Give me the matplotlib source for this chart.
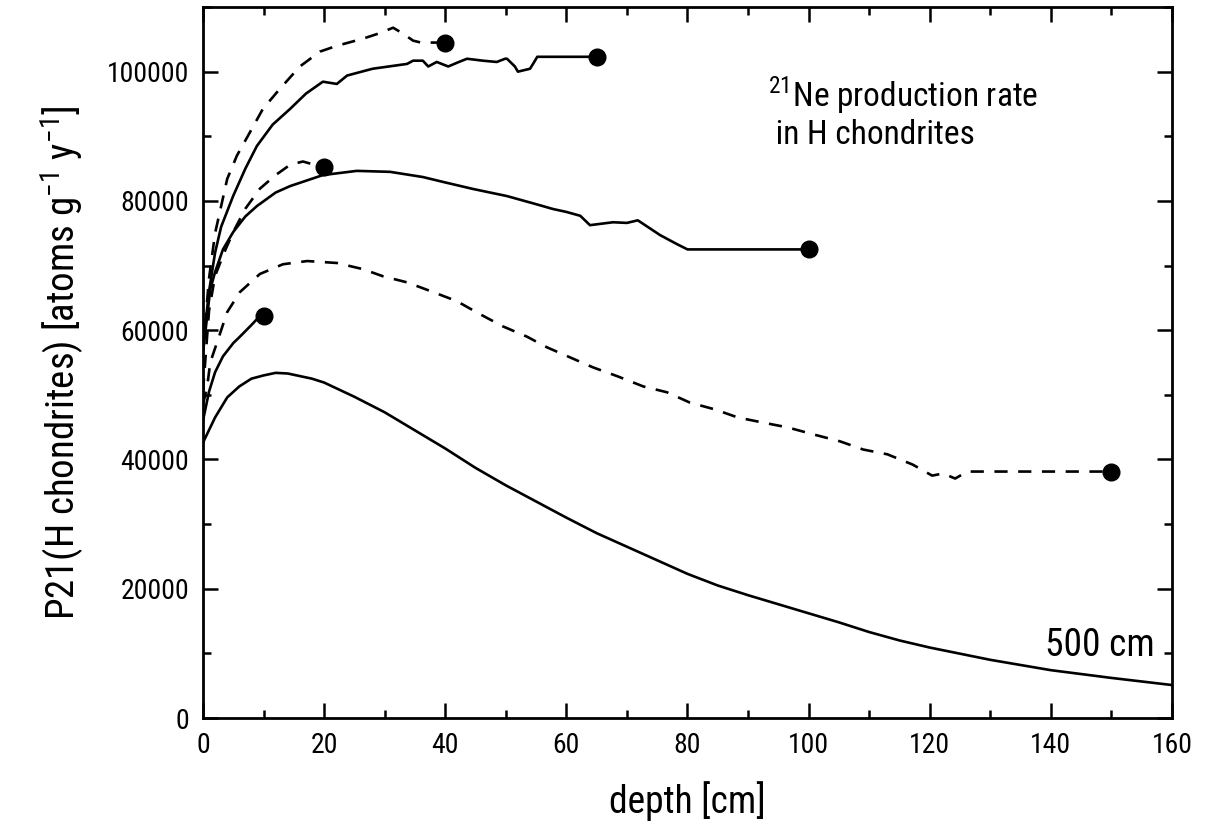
import numpy as np
import matplotlib.pyplot as plt
from matplotlib.ticker import MultipleLocator

plt.rcParams['font.family'] = ['Roboto Condensed', 'Archivo Narrow', 'Liberation Sans', 'DejaVu Sans']
plt.rcParams['mathtext.fontset'] = 'custom'
plt.rcParams['mathtext.rm'] = 'Roboto Condensed'

# depth [cm] and P21 [atoms/g/y] for each meteoroid radius
d_10 = [0, 1, 2, 3.3, 5, 6.1, 8, 8.9, 10]
p_10 = [46000, 50500, 53500, 55950, 58000, 59000, 60800, 61700, 62200]

d_20 = [0, 1, 2, 3.5, 5, 7, 9.4, 12, 14.4, 16.5, 18, 20]
p_20 = [50500, 63000, 68400, 72000, 75200, 78800, 81900, 84000, 85600, 86100, 85700, 85300]

d_40 = [0, 1, 2, 4, 5.6, 7.8, 9.9, 12.7, 16, 19.3, 22.1, 26.4, 29, 31.4, 33, 34.7, 36, 40]
p_40 = [57000, 68000, 75000, 83400, 87000, 90700, 94250, 97350, 100800, 103100, 104000,
        105100, 105900, 106800, 105900, 104800, 104500, 104500]

d_65 = [0, 1, 2, 3, 5, 7, 8.9, 11.5, 14.4, 17, 19.8, 22.1, 23.8, 28, 33.7, 34.7, 36.3,
        37.2, 38.6, 40.5, 42, 43.6, 46.2, 48.5, 49.9, 50.2, 51.5, 52, 54, 54.5, 55.2, 65]
p_65 = [57500, 66000, 72000, 76000, 80800, 85000, 88500, 91800, 94250, 96600, 98450,
        98100, 99400, 100450, 101200, 101700, 101700, 100800, 101500, 100800, 101400,
        102000, 101700, 101500, 102000, 102000, 100800, 100000, 100450, 101200, 102300, 102300]

d_100 = [0, 1.2, 2, 3.3, 5, 7, 8.9, 12, 14.4, 19.8, 25.4, 30.9, 36.3, 39.6, 44.6, 50.2,
         55, 57.8, 60, 62.3, 63.9, 67.7, 70, 71.8, 75.5, 78.3, 80, 100]
p_100 = [56500, 66300, 69000, 72500, 75200, 77600, 79200, 81300, 82300, 84000, 84650,
         84500, 83700, 82950, 81850, 80750, 79500, 78750, 78300, 77700, 76250, 76700,
         76600, 77000, 74700, 73300, 72500, 72500]

d_150 = [0, 0.7, 1.2, 2.5, 4, 6.1, 9.4, 13.2, 17.2, 22.1, 26.4, 29.7, 33.7, 38, 41.9,
         45.7, 49.5, 53.5, 56.8, 60.6, 64.4, 68.5, 72.7, 76.6, 80.4, 84.5, 88.3, 92.5,
         96.6, 100.7, 105.2, 109, 113, 117.2, 120.4, 122.2, 124.2, 126.2, 128.3, 150]
p_150 = [48500, 51300, 55000, 58600, 62800, 65900, 68700, 70200, 70700, 70400, 69450,
         68350, 67400, 65900, 64500, 62500, 60600, 59000, 57350, 55800, 54250, 52850,
         51300, 50400, 48800, 47750, 46500, 45700, 44950, 43900, 42800, 41540, 40800,
         39200, 37500, 37830, 37050, 38130, 38130, 38130]

d_500 = [0, 2, 4, 6, 8, 10, 12, 14, 16, 18, 20, 25, 30, 35, 40, 45, 50, 55, 60, 65, 70,
         75, 80, 85, 90, 95, 100, 105, 110, 115, 120, 130, 140, 150, 160]
p_500 = [42600, 46500, 49600, 51300, 52500, 53000, 53400, 53300, 52900, 52500, 51900,
         49700, 47300, 44500, 41700, 38700, 36000, 33500, 31000, 28600, 26500, 24400,
         22300, 20500, 19000, 17600, 16200, 14800, 13300, 12000, 10900, 9000, 7400,
         6200, 5100]

fig = plt.figure(figsize=(12.06, 8.27), dpi=100)
ax = fig.add_axes([0.1683, 0.1318, 0.8035, 0.8597])

lw = 1.9
dash = (5, 4)
curves = [(d_10, p_10, '-'), (d_20, p_20, '--'), (d_40, p_40, '--'), (d_65, p_65, '-'),
          (d_100, p_100, '-'), (d_150, p_150, '--'), (d_500, p_500, '-')]
for d, p, ls in curves:
    if ls == '--':
        ax.plot(d, p, color='black', lw=lw, dashes=dash)
    else:
        ax.plot(d, p, color='black', lw=lw)
    if d[-1] < 160:
        ax.plot(d[-1], p[-1], 'o', color='black', ms=12)

ax.set_xlim(0, 160)
ax.set_ylim(0, 110000)
ax.xaxis.set_major_locator(MultipleLocator(20))
ax.xaxis.set_minor_locator(MultipleLocator(10))
ax.yaxis.set_major_locator(MultipleLocator(20000))
ax.yaxis.set_minor_locator(MultipleLocator(10000))
ax.tick_params(which='both', direction='in', top=True, right=True, width=1.8, labelsize=20)
ax.tick_params(which='major', length=11, pad=10)
ax.tick_params(which='minor', length=6)
for s in ax.spines.values():
    s.set_linewidth(2)

ax.set_xlabel('depth [cm]', fontsize=27, labelpad=16)
ax.set_ylabel('P21(H chondrites) [atoms g$^{-1}$ y$^{-1}$]', fontsize=28, labelpad=14)

ax.text(0.583, 0.905, '$^{21}$Ne production rate\n in H chondrites', transform=ax.transAxes,
        fontsize=24, va='top', ha='left', linespacing=1.1)
ax.text(0.982, 0.087, '500 cm', transform=ax.transAxes, fontsize=27, ha='right', va='baseline')

plt.savefig('out.png', dpi=100)
